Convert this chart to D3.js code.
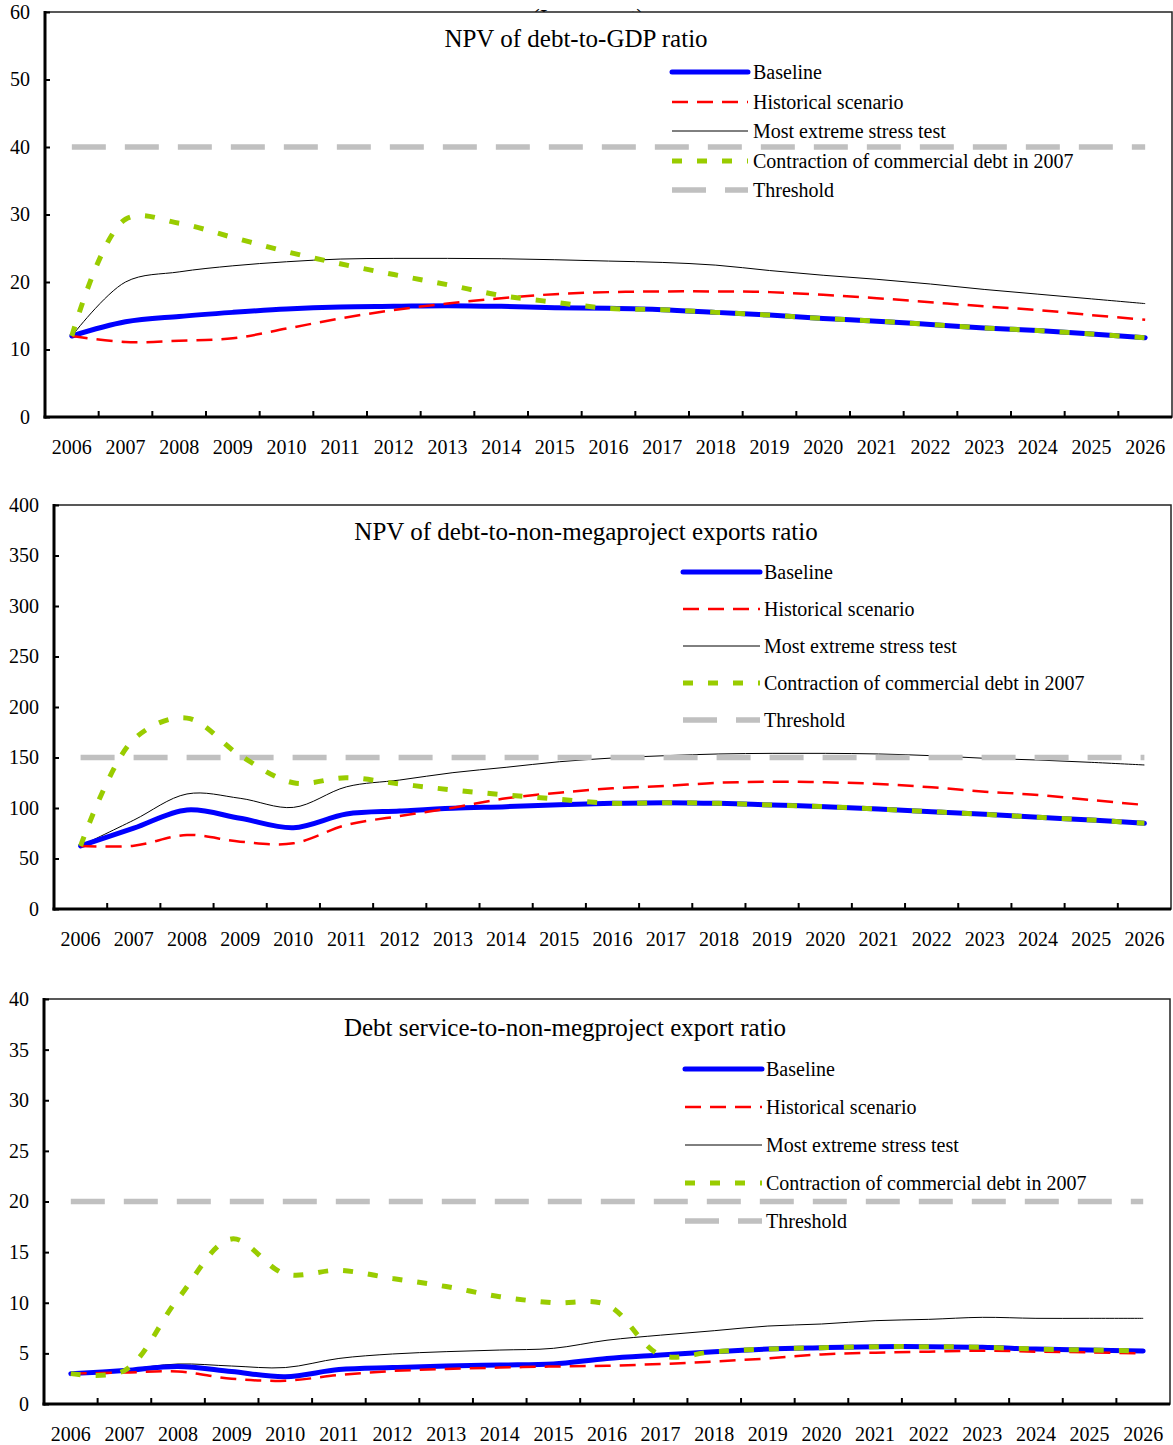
<!DOCTYPE html>
<html>
<head>
<meta charset="utf-8">
<script src="https://cdn.jsdelivr.net/npm/d3@7"></script>
<style>
  html, body { margin: 0; padding: 0; background: #fff; }
  svg text { font-family: "Liberation Serif", "Times New Roman", serif; fill: #000; }
</style>
</head>
<body>
<svg id="chart" width="1173" height="1445"></svg>
<script>
// ---------------- DATA ----------------
const years = ["2006","2007","2008","2009","2010","2011","2012","2013","2014","2015","2016",
               "2017","2018","2019","2020","2021","2022","2023","2024","2025","2026"];

const seriesNames = ["Baseline", "Historical scenario", "Most extreme stress test",
                     "Contraction of commercial debt in 2007", "Threshold"];

const chartTitles = ["NPV of debt-to-GDP ratio",
                     "NPV of debt-to-non-megaproject exports ratio",
                     "Debt service-to-non-megproject export ratio"];

const yTicks1 = [0, 10, 20, 30, 40, 50, 60];
const yTicks2 = [0, 50, 100, 150, 200, 250, 300, 350, 400];
const yTicks3 = [0, 5, 10, 15, 20, 25, 30, 35, 40];

// Chart 1: NPV of debt-to-GDP ratio
const baseline1   = [12.0,14.1,14.9,15.5,16.0,16.3,16.4,16.5,16.4,16.2,16.1,15.9,15.5,15.1,14.6,14.2,13.7,13.2,12.8,12.3,11.75];
const historical1 = [12.0,11.1,11.3,11.65,13.1,14.6,15.85,16.8,17.6,18.2,18.5,18.6,18.6,18.5,18.1,17.6,17.0,16.4,15.85,15.1,14.4];
const stress1     = [12.0,20.0,21.5,22.4,23.0,23.4,23.5,23.5,23.45,23.3,23.1,22.9,22.5,21.7,21.0,20.4,19.7,18.9,18.2,17.5,16.8];
const contraction1= [12.0,29.3,28.7,26.6,24.5,22.7,21.1,19.6,18.0,17.0,16.1,15.9,15.5,15.1,14.6,14.2,13.7,13.2,12.8,12.3,11.75];
const threshold1  = 40;

// Chart 2: NPV of debt-to-non-megaproject exports ratio
const baseline2   = [62.4,80,98,89.8,80.5,94,97,99.7,101.3,103.3,104.6,105.3,104.6,103,101.3,99,96.4,93.7,90.8,88.1,84.8];
const historical2 = [62.4,62.7,73.3,66.7,65,83.2,92,100.3,109.6,115.2,119.5,121.8,125,126,125.4,123.8,120.5,116.2,112.9,107.9,103];
const stress2     = [62.4,88,113.9,109.6,100.6,121,127.7,135,140.3,145.8,149.5,151.8,153.5,154.1,154.1,153.5,151.8,149.2,147.5,145.2,142.6];
const contraction2= [62.4,168,189,152,125,130,123.8,117.8,112.9,108.6,104.6,105.3,104.6,103,101.3,99,96.4,93.7,90.8,88.1,84.8];
const threshold2  = 150;

// Chart 3: Debt service-to-non-megproject export ratio
const baseline3   = [3.0,3.3,3.7,3.2,2.7,3.4,3.6,3.75,3.85,3.95,4.5,4.84,5.17,5.43,5.56,5.66,5.66,5.6,5.43,5.33,5.23];
const historical3 = [3.0,3.1,3.2,2.5,2.3,2.86,3.26,3.46,3.6,3.7,3.78,3.95,4.2,4.5,4.9,5.07,5.17,5.27,5.17,5.1,5.0];
const stress3     = [3.0,3.4,3.95,3.75,3.6,4.5,4.94,5.17,5.33,5.5,6.3,6.8,7.24,7.7,7.9,8.23,8.36,8.56,8.46,8.46,8.46];
const contraction3= [3.0,3.3,10.4,16.3,12.84,13.2,12.4,11.6,10.6,10.0,9.8,4.84,5.17,5.43,5.56,5.66,5.66,5.6,5.43,5.33,5.23];
const threshold3  = 20;

// ---------------- STYLES ----------------
const FONT = '"Liberation Serif", "Times New Roman", serif';
const styles = {
  baseline:    { color: "#0000FF", width: 5,   dash: null,    cap: "round" },
  historical:  { color: "#FF0000", width: 2.5, dash: "16,9",  cap: "butt" },
  stress:      { color: "#000000", width: 1,   dash: null,    cap: "butt" },
  contraction: { color: "#99CC00", width: 5,   dash: "10,15", cap: "butt" },
  threshold:   { color: "#C0C0C0", width: 5.5, dash: "34,19", cap: "butt" }
};

// ---------------- LAYOUT ----------------
const charts = [
  { title: chartTitles[0], ticks: yTicks1, yMax: 60, threshold: threshold1,
    series: { baseline: baseline1, historical: historical1, stress: stress1, contraction: contraction1 },
    box: { left: 45, right: 1172, top: 12, bottom: 417 },
    titleX: 576, titleY: 47,
    legend: { x0: 672, x1: 748, tx: 753, rows: [72, 102, 131, 161, 190] },
    yLabelX: 30, xLabelY: 454 },
  { title: chartTitles[1], ticks: yTicks2, yMax: 400, threshold: threshold2,
    series: { baseline: baseline2, historical: historical2, stress: stress2, contraction: contraction2 },
    box: { left: 54, right: 1171, top: 505, bottom: 909 },
    titleX: 586, titleY: 540,
    legend: { x0: 683, x1: 760, tx: 764, rows: [572, 609, 646, 683, 720] },
    yLabelX: 39, xLabelY: 946 },
  { title: chartTitles[2], ticks: yTicks3, yMax: 40, threshold: threshold3,
    series: { baseline: baseline3, historical: historical3, stress: stress3, contraction: contraction3 },
    box: { left: 44, right: 1170, top: 999, bottom: 1404 },
    titleX: 565, titleY: 1036,
    legend: { x0: 685, x1: 762, tx: 766, rows: [1069, 1107, 1145, 1183, 1221] },
    yLabelX: 29, xLabelY: 1441 }
];

const svg = d3.select("#chart");
svg.append("rect").attr("width", 1173).attr("height", 1445).attr("fill", "#fff");

// partially hidden header text behind the first plot area
svg.append("text").attr("x", 588).attr("y", 25).attr("text-anchor", "middle")
  .style("font-family", FONT).attr("font-size", 24).text("(In percent)");

charts.forEach(c => {
  const b = c.box;
  const g = svg.append("g");
  const x = d3.scaleBand().domain(years).range([b.left, b.right]);
  const y = d3.scaleLinear().domain([0, c.yMax]).range([b.bottom, b.top]);
  const cx = d => x(d) + x.bandwidth() / 2;

  // plot background + frame
  g.append("rect").attr("x", b.left).attr("y", b.top)
    .attr("width", b.right - b.left).attr("height", b.bottom - b.top)
    .attr("fill", "#fff").attr("stroke", "#222").attr("stroke-width", 1.5);

  // y axis
  const yAxis = d3.axisLeft(y).tickValues(c.ticks).tickSize(-5).tickPadding(0).tickFormat(d3.format("d"));
  const ya = g.append("g").attr("transform", `translate(${b.left},0)`).call(yAxis);
  ya.select(".domain").remove();
  ya.selectAll(".tick line").attr("stroke", "#000").attr("stroke-width", 2);
  ya.selectAll(".tick text").attr("x", c.yLabelX - b.left).attr("dy", "0.32em")
    .attr("font-size", 20).style("font-family", FONT).attr("fill", "#000");

  // x axis: ticks on category boundaries, labels at category centers
  const xa = g.append("g");
  years.slice(1).forEach(yr => {
    xa.append("line").attr("x1", x(yr)).attr("x2", x(yr))
      .attr("y1", b.bottom).attr("y2", b.bottom - 6)
      .attr("stroke", "#000").attr("stroke-width", 2);
  });
  const xAxis = d3.axisBottom(x).tickSize(0).tickPadding(0);
  const xg = g.append("g").attr("transform", `translate(0,${b.bottom})`).call(xAxis);
  xg.select(".domain").remove();
  xg.selectAll(".tick text").attr("y", c.xLabelY - b.bottom).attr("dy", 0)
    .attr("font-size", 20).style("font-family", FONT).attr("fill", "#000");

  // axis lines (thick)
  g.append("line").attr("x1", b.left).attr("x2", b.left).attr("y1", b.top - 1).attr("y2", b.bottom + 1.5)
    .attr("stroke", "#000").attr("stroke-width", 3);
  g.append("line").attr("x1", b.left - 1.5).attr("x2", b.right).attr("y1", b.bottom).attr("y2", b.bottom)
    .attr("stroke", "#000").attr("stroke-width", 3);

  const line = d3.line().x((d, i) => cx(years[i])).y(d => y(d)).curve(d3.curveCatmullRom.alpha(0.5));

  const drawSeries = key => {
    const s = styles[key];
    g.append("path").attr("d", line(c.series[key])).attr("fill", "none")
      .attr("stroke", s.color).attr("stroke-width", s.width)
      .attr("stroke-dasharray", s.dash).attr("stroke-linecap", s.cap).attr("stroke-linejoin", "round");
  };

  drawSeries("stress");
  // threshold
  const ts = styles.threshold;
  g.append("line").attr("x1", cx(years[0])).attr("x2", cx(years[years.length - 1]))
    .attr("y1", y(c.threshold)).attr("y2", y(c.threshold))
    .attr("stroke", ts.color).attr("stroke-width", ts.width).attr("stroke-dasharray", ts.dash);
  drawSeries("baseline");
  drawSeries("historical");
  drawSeries("contraction");

  // title
  g.append("text").attr("x", c.titleX).attr("y", c.titleY).attr("text-anchor", "middle")
    .style("font-family", FONT).attr("font-size", 25).text(c.title);

  // legend
  const keys = ["baseline", "historical", "stress", "contraction", "threshold"];
  keys.forEach((k, i) => {
    const s = styles[k];
    const ry = c.legend.rows[i];
    g.append("line").attr("x1", c.legend.x0).attr("x2", c.legend.x1).attr("y1", ry).attr("y2", ry)
      .attr("stroke", s.color).attr("stroke-width", s.width)
      .attr("stroke-dasharray", s.dash).attr("stroke-linecap", s.cap);
    g.append("text").attr("x", c.legend.tx).attr("y", ry + 7).style("font-family", FONT)
      .attr("font-size", 20).text(seriesNames[i]);
  });
});
</script>
</body>
</html>
